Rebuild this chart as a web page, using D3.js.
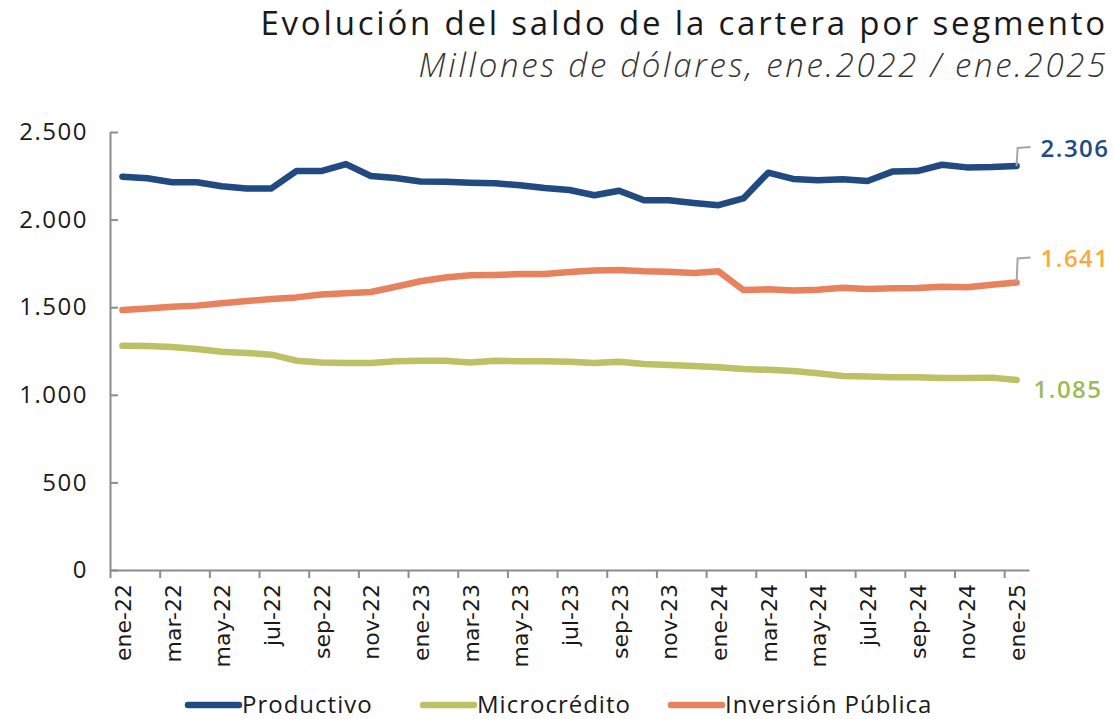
<!DOCTYPE html>
<html>
<head>
<meta charset="utf-8">
<script src="https://cdn.jsdelivr.net/npm/d3@7"></script>
<style>
  html, body { margin: 0; padding: 0; background: #ffffff; }
  svg { display: block; }
</style>
</head>
<body>
<svg id="chart" width="1113" height="719"></svg>
<script>
// ---------- DATA ----------
const months = [
  "ene-22","feb-22","mar-22","abr-22","may-22","jun-22","jul-22","ago-22","sep-22","oct-22","nov-22","dic-22",
  "ene-23","feb-23","mar-23","abr-23","may-23","jun-23","jul-23","ago-23","sep-23","oct-23","nov-23","dic-23",
  "ene-24","feb-24","mar-24","abr-24","may-24","jun-24","jul-24","ago-24","sep-24","oct-24","nov-24","dic-24",
  "ene-25"
];
const productivo = [
  2245, 2236, 2213, 2213, 2190, 2178, 2178, 2277, 2277, 2317, 2249, 2237,
  2218, 2216, 2211, 2207, 2196, 2180, 2169, 2139, 2165, 2110, 2110, 2095,
  2082, 2121, 2268, 2232, 2224, 2230, 2220, 2274, 2277, 2313, 2298, 2300,
  2306
];
const microcredito = [
  1280, 1279, 1273, 1261, 1246, 1239, 1229, 1195, 1185, 1182, 1182, 1191,
  1195, 1195, 1185, 1195, 1191, 1191, 1189, 1182, 1189, 1176, 1170, 1164,
  1157, 1147, 1143, 1136, 1123, 1107, 1105, 1100, 1100, 1096, 1096, 1098,
  1085
];
const inversionPublica = [
  1484, 1492, 1503, 1509, 1522, 1535, 1547, 1556, 1573, 1579, 1587, 1617,
  1648, 1670, 1682, 1684, 1689, 1689, 1701, 1710, 1712, 1705, 1703, 1695,
  1705, 1598, 1602, 1596, 1600, 1611, 1604, 1608, 1610, 1617, 1614, 1628,
  1641
];
const seriesNames = ["Productivo", "Microcrédito", "Inversión Pública"];
const seriesColors = ["#204a80", "#bdc064", "#e8815d"];
const labelColors = ["#1f4b84", "#9bbb59", "#f9aa3f"];
const yTicks = [0, 500, 1000, 1500, 2000, 2500];
const titleText = "Evolución del saldo de la cartera por segmento";
const subtitleText = "Millones de dólares, ene.2022 / ene.2025";

// ---------- SETUP ----------
const svg = d3.select("#chart");
const mLeft = 110, mRight = 1029, mTop = 132, mBottom = 570;
const fontMain = "'Open Sans', 'DejaVu Sans', sans-serif";
const fontTick = "'DejaVu Sans', sans-serif";

const locale = d3.formatLocale({ decimal: ",", thousands: ".", grouping: [3], currency: ["", ""] });
const fmt = locale.format(",d");

const x = d3.scalePoint().domain(months).range([mLeft, mRight]).padding(0.5);
const xEdge = d3.scaleLinear().domain([0, months.length]).range([mLeft, mRight]);
const y = d3.scaleLinear().domain([0, 2500]).range([mBottom, mTop]);

// ---------- TITLE ----------
svg.append("text")
  .attr("x", 1108).attr("y", 35)
  .attr("text-anchor", "end")
  .attr("font-family", fontMain)
  .attr("font-size", 33)
  .attr("letter-spacing", 2.8)
  .attr("fill", "#1a1a1a")
  .text(titleText);
svg.append("text")
  .attr("x", 1108).attr("y", 77)
  .attr("text-anchor", "end")
  .attr("font-family", fontMain)
  .attr("font-style", "italic")
  .attr("font-weight", 300)
  .attr("font-size", 33)
  .attr("letter-spacing", 2.7)
  .attr("fill", "#333")
  .text(subtitleText);

// ---------- Y AXIS ----------
const yAxis = svg.append("g")
  .attr("transform", `translate(${mLeft},0)`)
  .call(d3.axisLeft(y).tickValues(yTicks).tickFormat(fmt).tickSizeInner(-8).tickSizeOuter(0).tickPadding(22));
yAxis.select(".domain").attr("stroke", "#8c8c8c").attr("stroke-width", 2);
yAxis.selectAll(".tick line").attr("stroke", "#8c8c8c").attr("stroke-width", 2);
yAxis.selectAll(".tick text")
  .attr("font-family", fontMain).attr("font-size", 24).attr("letter-spacing", 1.5).attr("fill", "#1a1a1a");

// ---------- X AXIS ----------
const xTickEdges = d3.range(0, months.length, 2);
const xAxisTicks = svg.append("g")
  .attr("transform", `translate(0,${mBottom})`)
  .call(d3.axisBottom(xEdge).tickValues(xTickEdges).tickFormat("").tickSizeInner(8).tickSizeOuter(0));
xAxisTicks.select(".domain").attr("stroke", "#8c8c8c").attr("stroke-width", 2);
xAxisTicks.selectAll(".tick line").attr("stroke", "#8c8c8c").attr("stroke-width", 2);

const labelMonths = months.filter((d, i) => i % 2 === 0);
const xAxisLabels = svg.append("g")
  .attr("transform", `translate(0,${mBottom})`)
  .call(d3.axisBottom(x).tickValues(labelMonths).tickSize(0).tickPadding(0));
xAxisLabels.select(".domain").remove();
xAxisLabels.selectAll(".tick text")
  .attr("font-family", fontTick).attr("font-size", 22).attr("fill", "#1a1a1a")
  .attr("transform", "rotate(-90)")
  .attr("text-anchor", "end")
  .attr("x", -14).attr("y", 0).attr("dy", "0.36em");

// ---------- LINES ----------
const allSeries = [productivo, microcredito, inversionPublica];
const line = d3.line().x((d, i) => x(months[i])).y(d => y(d));
[1, 2, 0].forEach(si => {
  svg.append("path")
    .datum(allSeries[si])
    .attr("d", line)
    .attr("fill", "none")
    .attr("stroke", seriesColors[si])
    .attr("stroke-width", 6.5)
    .attr("stroke-linejoin", "round")
    .attr("stroke-linecap", "round");
});

// ---------- END LABELS ----------
const lastM = months[months.length - 1];
const ex = x(lastM);
const endCfg = [
  { si: 0, up: 18, leader: true },
  { si: 2, up: 24, leader: true },
  { si: 1, up: 0, leader: false }
];
endCfg.forEach(c => {
  const v = allSeries[c.si][allSeries[c.si].length - 1];
  const ey = y(v);
  if (c.leader) {
    svg.append("path")
      .attr("d", `M${ex},${ey} L${ex + 1},${ey - c.up} L${ex + 14},${ey - c.up - 1}`)
      .attr("fill", "none").attr("stroke", "#a6a6a6").attr("stroke-width", 2);
    svg.append("text")
      .attr("x", ex + 24).attr("y", ey - c.up + 9)
      .attr("font-family", fontMain).attr("font-weight", 600).attr("font-size", 24)
      .attr("letter-spacing", 1.5)
      .attr("fill", labelColors[c.si])
      .text(fmt(v));
  } else {
    svg.append("text")
      .attr("x", ex + 17).attr("y", ey + 18)
      .attr("font-family", fontMain).attr("font-weight", 600).attr("font-size", 24)
      .attr("letter-spacing", 1.5)
      .attr("fill", labelColors[c.si])
      .text(fmt(v));
  }
});

// ---------- LEGEND ----------
const legendX = [185, 420, 668];
const legend = svg.append("g");
seriesNames.forEach((name, i) => {
  const g = legend.append("g").attr("transform", `translate(${legendX[i]},705)`);
  g.append("line").attr("x1", 3).attr("x2", 54).attr("y1", 0).attr("y2", 0)
    .attr("stroke", seriesColors[i]).attr("stroke-width", 6.5).attr("stroke-linecap", "round");
  g.append("text").attr("x", 57).attr("y", 8)
    .attr("font-family", fontMain).attr("font-size", 24).attr("letter-spacing", 1)
    .attr("fill", "#1a1a1a")
    .text(name);
});
</script>
</body>
</html>
